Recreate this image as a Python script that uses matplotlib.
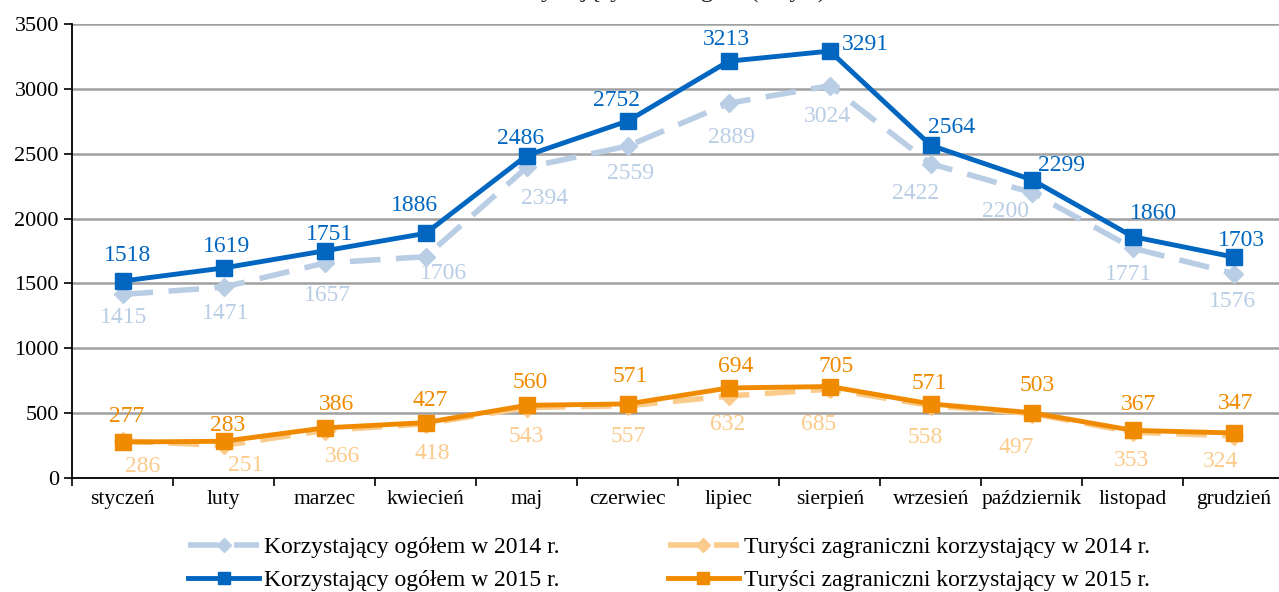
import numpy as np
import matplotlib
matplotlib.use("Agg")
import matplotlib.pyplot as plt

plt.rcParams["font.family"] = ["Liberation Serif", "DejaVu Serif"]

MONTHS = ["styczeń", "luty", "marzec", "kwiecień", "maj", "czerwiec", "lipiec",
          "sierpień", "wrzesień", "październik", "listopad", "grudzień"]
OGOLEM_2014 = [1415, 1471, 1657, 1706, 2394, 2559, 2889, 3024, 2422, 2200, 1771, 1576]
OGOLEM_2015 = [1518, 1619, 1751, 1886, 2486, 2752, 3213, 3291, 2564, 2299, 1860, 1703]
ZAGR_2014 = [286, 251, 366, 418, 543, 557, 632, 685, 558, 497, 353, 324]
ZAGR_2015 = [277, 283, 386, 427, 560, 571, 694, 705, 571, 503, 367, 347]

# przesunięcia etykiet względem punktów (px, w dół dodatnie) – jak w oryginale
OFF_OG15 = [(5, -28), (3, -23), (5, -18), (-11, -30), (-6, -19), (-11, -23),
            (-2, -24), (36, -9), (21, -20), (30, -16), (21, -25), (8, -19)]
OFF_OG14 = [(1, 21), (2, 24), (3, 30), (18, 15), (18, 29), (3, 25),
            (3, 32), (-2, 29), (-15, 28), (-26, 17), (-4, 24), (-1, 26)]
OFF_ZA15 = [(4, -28), (4, -18), (12, -25), (5, -24), (3, -25), (3, -29),
            (7, -23), (6, -22), (-2, -22), (5, -29), (6, -28), (2, -31)]
OFF_ZA14 = [(20, 24), (22, 18), (18, 24), (7, 28), (0, 27), (0, 29),
            (-1, 26), (-11, 33), (-6, 30), (-16, 32), (-1, 26), (-13, 24)]

C_OG14, C_OG15 = "#b9cde5", "#0066c0"
C_ZA14, C_ZA15 = "#fbcb8c", "#f08a00"

fig = plt.figure(figsize=(12.79, 5.92), dpi=100)
ax = fig.add_axes([0.0563, 0.1926, 0.948, 0.7669])
x = np.arange(len(MONTHS))

l_og14, = ax.plot(x, OGOLEM_2014, color=C_OG14, lw=4, dashes=(5.5, 2.8), marker="D",
                  ms=9.5, mec=C_OG14, label="Korzystający ogółem w 2014 r.", zorder=3)
l_za14, = ax.plot(x, ZAGR_2014, color=C_ZA14, lw=4, dashes=(5.5, 2.8), marker="D",
                  ms=9.5, mec=C_ZA14, label="Turyści zagraniczni korzystający w 2014 r.", zorder=3)
l_og15, = ax.plot(x, OGOLEM_2015, color=C_OG15, lw=3.5, marker="s", ms=12,
                  label="Korzystający ogółem w 2015 r.", zorder=4)
l_za15, = ax.plot(x, ZAGR_2015, color=C_ZA15, lw=3.5, marker="s", ms=12,
                  label="Turyści zagraniczni korzystający w 2015 r.", zorder=4)


def labels(vals, offs, color):
    for i, (v, (dx, dy)) in enumerate(zip(vals, offs)):
        ax.annotate(str(v), (i, v), xytext=(dx * 0.72, -(dy + 2) * 0.72),
                    textcoords="offset points", ha="center", va="center",
                    color=color, fontsize=17, zorder=5)


labels(OGOLEM_2015, OFF_OG15, C_OG15)
labels(OGOLEM_2014, OFF_OG14, C_OG14)
labels(ZAGR_2015, OFF_ZA15, C_ZA15)
labels(ZAGR_2014, OFF_ZA14, C_ZA14)

ax.set_xlim(-0.5, len(MONTHS) - 0.5)
ax.set_ylim(0, 3500)
ax.set_yticks(range(0, 3501, 500))
ax.set_xticks(np.arange(-0.5, len(MONTHS), 1.0))
ax.set_xticklabels([])
ax.set_xticks(x, minor=True)
ax.set_xticklabels(MONTHS, minor=True)
ax.tick_params(axis="x", which="minor", length=0, pad=9, labelsize=15.5)
ax.tick_params(axis="x", which="major", length=6, width=1.2, direction="out")
ax.tick_params(axis="y", length=6, width=1.2, labelsize=16, direction="out")
ax.grid(axis="y", color="#a0a0a0", lw=1.8)
ax.set_axisbelow(True)
for s in ["top", "right"]:
    ax.spines[s].set_visible(False)
ax.spines["left"].set_linewidth(1.3)
ax.spines["bottom"].set_linewidth(1.3)

# tytuł wykresu – w oryginale ucięty górną krawędzią
fig.text(0.515, 1 - 3 / 592, "Korzystający z noclegów (w tys.)", ha="center",
         va="bottom", fontsize=18, color="#222222")

# legenda: wiersz 1 = 2014, wiersz 2 = 2015
handles = [l_og14, l_og15, l_za14, l_za15]
fig.legend(handles=handles, labels=[h.get_label() for h in handles],
           loc="upper center", bbox_to_anchor=(0.523, 0.122), ncol=2,
           frameon=False, fontsize=17, handlelength=3.0, columnspacing=4.6,
           labelspacing=0.5, handletextpad=0.2, borderpad=0.2, markerscale=0.7)

fig.savefig("out.png", dpi=100)
